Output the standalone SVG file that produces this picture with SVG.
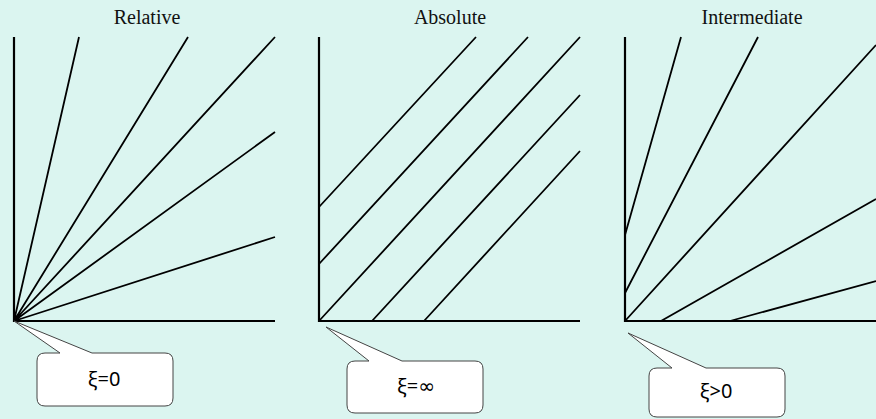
<svg xmlns="http://www.w3.org/2000/svg" width="876" height="419" viewBox="0 0 876 419">
<style>
.title{font-family:"Liberation Serif","Times New Roman",serif;font-size:20px;fill:#111;text-anchor:middle}
.axis{stroke:#000;stroke-width:2.2;fill:none}
.ln{stroke:#000;stroke-width:1.8;fill:none}
.call{fill:#fff;stroke:#444;stroke-width:1}
.ct{font-family:"Noto Sans","DejaVu Sans",sans-serif;font-size:20px;fill:#000;text-anchor:middle}
</style>
<rect width="876" height="419" fill="#DBF5F0"/>
<g id="relative">
<text class="title" x="147" y="24">Relative</text>
<path class="axis" d="M14,37 V321 H275"/>
<g class="connectors">
<path class="ln" d="M14,321 L79,37 M14,321 L188,37 M14,321 L275,37 M14,321 L275,132 M14,321 L275,237"/>
</g>
</g>
<g id="absolute">
<text class="title" x="450" y="24">Absolute</text>
<path class="axis" d="M319,37 V321 H580"/>
<g class="connectors">
<path class="ln" d="M319,207 L476,37 M319,264 L528,37 M319,321 L580,37 M372,321 L580,95 M424,321 L580,151"/>
</g>
</g>
<g id="intermediate">
<text class="title" x="752" y="24">Intermediate</text>
<path class="axis" d="M625,37 V321 H876"/>
<g class="connectors">
<path class="ln" d="M625,235 L681,37 M625,293 L758,37 M625,321 L876,45 M661,321 L876,199 M730,321 L876,281"/>
</g>
</g>
<g id="callout1">
<path class="call" d="M45,353 L60,353 L14,321 L92,353 L165,353 Q173,353 173,361 L173,398 Q173,406 165,406 L45,406 Q37,406 37,398 L37,361 Q37,353 45,353 Z"/>
<text class="ct" x="104" y="386">ξ=0</text>
</g>
<g id="callout2">
<path class="call" d="M355,361 L369,361 L326,327 L402,361 L475,361 Q483,361 483,369 L483,405 Q483,413 475,413 L355,413 Q347,413 347,405 L347,369 Q347,361 355,361 Z"/>
<text class="ct" x="416" y="393">ξ=∞</text>
</g>
<g id="callout3">
<path class="call" d="M657,368 L672,368 L628,333 L706,368 L777,368 Q785,368 785,376 L785,409 Q785,417 777,417 L657,417 Q649,417 649,409 L649,376 Q649,368 657,368 Z"/>
<text class="ct" x="716" y="398">ξ&gt;0</text>
</g>
</svg>
